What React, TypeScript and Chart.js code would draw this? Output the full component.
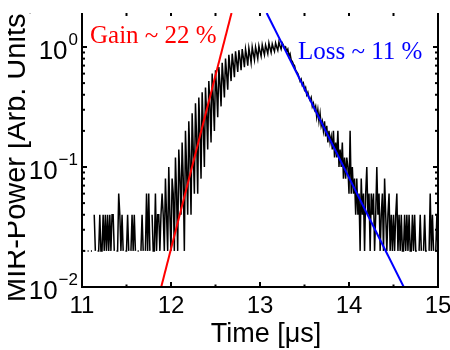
import React, { useEffect, useRef } from 'react';
import { Chart, registerables } from 'chart.js';

Chart.register(...registerables);

// ---- data ----
const T_START = 11.0; // μs, first sample time
const T_STEP = 0.0125; // μs between samples

// MIR power trace (arb. units); null = zero reading (not drawable on log axis)
const TRACE_VALUES: (number | null)[] = [
  // 11.0 – 11.74 : noise floor
  0.02, null, 0.02, 0.02, null, 0.02, 0.02, null, 0.02, 0.02,
  null, 0.04, 0.02, null, 0.02, 0.02, 0.04, 0.02, 0.02, 0.04,
  0.02, 0.04, 0.02, 0.04, 0.02, 0.04, 0.02, 0.04, 0.04, 0.02,
  null, 0.02, 0.02, 0.06, 0.04, 0.02, 0.04, 0.02, null, 0.02,
  0.02, 0.04, 0.02, null, 0.02, 0.04, 0.02, 0.04, 0.02, null,
  0.02, 0.02, null, 0.02, 0.04, 0.02, null, 0.02, 0.06, 0.02,
  // 11.75 – 13.27 : rising edge
  0.06, 0.02, null, 0.04, 0.02, 0.02, 0.06, 0.02, 0.04, 0.04,
  0.02, 0.04, 0.06, 0.04, 0.02, 0.08, 0.04, 0.02, 0.1, 0.04,
  0.02, 0.08, 0.06, 0.02, 0.12, 0.06, 0.02, 0.14, 0.08, 0.04,
  0.16, 0.08, 0.02, 0.2, 0.1, 0.04, 0.24, 0.12, 0.04, 0.28,
  0.14, 0.06, 0.34, 0.18, 0.06, 0.38, 0.2, 0.08, 0.42, 0.22,
  0.1, 0.46, 0.28, 0.14, 0.52, 0.32, 0.16, 0.6, 0.36, 0.2,
  0.64, 0.44, 0.26, 0.68, 0.5, 0.32, 0.74, 0.54, 0.38, 0.8,
  0.6, 0.44, 0.86, 0.68, 0.52, 0.88, 0.72, 0.56, 0.92, 0.76,
  0.62, 0.94, 0.8, 0.64, 0.96, 0.82, 0.68, 0.96, 0.84, 0.7,
  0.98, 0.86, 0.74, 1.0, 0.88, 0.78, 1.0, 0.9, 0.8, 1.02,
  0.92, 0.84, 1.04, 0.94, 0.86, 1.04, 0.96, 0.88, 1.08, 0.98,
  0.9, 1.06, 0.98, 0.92, 1.08, 1.0, 0.94, 1.1, 1.02, 0.96,
  1.08, 1.04, 0.98,
  // 13.29 – 14.35 : decay
  1.0, 0.92, 0.96, 0.84, 0.88, 0.78, 0.76, 0.72, 0.7, 0.64,
  0.62, 0.6, 0.56, 0.52, 0.54, 0.48, 0.5, 0.44, 0.46, 0.4,
  0.42, 0.38, 0.36, 0.38, 0.32, 0.34, 0.3, 0.32, 0.26, 0.3,
  0.24, 0.28, 0.22, 0.24, 0.2, 0.24, 0.18, 0.22, 0.16, 0.2,
  0.16, 0.18, 0.14, 0.2, 0.12, 0.16, 0.12, 0.2, 0.1, 0.14,
  0.1, 0.16, 0.08, 0.12, 0.08, 0.12, 0.1, 0.06, 0.2, 0.06,
  0.1, 0.06, 0.08, 0.04, 0.08, 0.04, 0.06, 0.02, 0.08, 0.04,
  0.06, 0.02, 0.06, 0.1, 0.04, 0.06, 0.02, 0.06, 0.04, 0.06,
  0.02, 0.04, 0.1, 0.04, 0.06, 0.02, 0.04, 0.06, 0.02, 0.08,
  // 14.41 – 15.0 : noise floor
  0.04, 0.02, 0.04, 0.06, 0.02, 0.04, 0.02, 0.04, 0.02, 0.04,
  0.06, 0.02, 0.04, 0.02, 0.04, 0.02, 0.02, 0.04, 0.02, 0.04,
  0.02, 0.04, 0.02, 0.02, 0.04, 0.02, 0.04, 0.02, 0.02, null,
  0.02, 0.04, 0.02, null, 0.02, 0.04, 0.02, 0.02, null, 0.02,
  0.06, 0.02, 0.04, 0.02, null, 0.02, 0.04, 0.02,
];

// Exponential fits (end points of the straight lines on the log axis)
const GAIN_T = [11.89, 12.68];
const GAIN_V = [0.01, 1.92];
const LOSS_T = [13.075, 14.615];
const LOSS_V = [1.92, 0.01];

const X_MIN = 11;
const X_MAX = 15;
const Y_MIN = 0.01;
const Y_MAX = 1.92;
const X_MINOR = [11.5, 12.5, 13.5, 14.5];
const Y_DECADES = [0.01, 0.1, 1];
const Y_EXPONENTS = ['\u22122', '\u22121', '0'];
const Y_MINOR_MULT = [2, 3, 4, 5, 6, 7, 8, 9];

const GAIN_LABEL = 'Gain ~ 22 %';
const LOSS_LABEL = 'Loss ~ 11 %';
const X_TITLE = 'Time [\u03bcs]';
const Y_TITLE = 'MIR-Power [Arb. Units]';

const SANS = '"Liberation Sans", Arial, Helvetica, sans-serif';
const SERIF = '"Liberation Serif", "Times New Roman", serif';

const matlabAxes = {
  id: 'matlabAxes',
  afterDraw(chart: any) {
    const ctx: CanvasRenderingContext2D = chart.ctx;
    const { left, right, top, bottom } = chart.chartArea;
    const xs = chart.scales.x;
    const ys = chart.scales.y;
    ctx.save();
    ctx.strokeStyle = '#000';
    ctx.lineCap = 'butt';

    // box (top edge not visible in reference)
    ctx.lineWidth = 2;
    ctx.beginPath();
    ctx.moveTo(left, top);
    ctx.lineTo(left, bottom);
    ctx.lineTo(right, bottom);
    ctx.lineTo(right, top);
    ctx.stroke();

    const seg = (x1: number, y1: number, x2: number, y2: number) => {
      ctx.beginPath();
      ctx.moveTo(x1, y1);
      ctx.lineTo(x2, y2);
      ctx.stroke();
    };

    // x ticks (inward)
    ctx.lineWidth = 2;
    xs.ticks.forEach((t: any) => {
      if (t.value <= X_MIN || t.value >= X_MAX) return;
      const px = xs.getPixelForValue(t.value);
      seg(px, bottom, px, bottom - 5);
      seg(px, top, px, top + 3);
    });
    X_MINOR.forEach((v) => {
      const px = xs.getPixelForValue(v);
      seg(px, bottom, px, bottom - 2.5);
      seg(px, top, px, top + 3);
    });

    // y ticks (inward, both sides)
    Y_DECADES.forEach((d) => {
      const py = ys.getPixelForValue(d);
      seg(left, py, left + 5, py);
      seg(right, py, right - 5, py);
      Y_MINOR_MULT.forEach((m) => {
        const v = d * m;
        if (v > Y_MAX) return;
        const p = ys.getPixelForValue(v);
        seg(left, p, left + 3, p);
        seg(right, p, right - 3, p);
      });
    });

    // y tick labels 10^n
    ctx.fillStyle = '#000';
    ctx.textBaseline = 'alphabetic';
    ctx.textAlign = 'right';
    Y_DECADES.forEach((d, i) => {
      const py = ys.getPixelForValue(d);
      ctx.font = `17px ${SANS}`;
      const ew = ctx.measureText(Y_EXPONENTS[i]).width;
      ctx.fillText(Y_EXPONENTS[i], left - 4, py - 2);
      ctx.font = `26px ${SANS}`;
      ctx.fillText('10', left - 5 - ew, py + 12);
    });

    // x title
    ctx.textAlign = 'center';
    ctx.font = `27px ${SANS}`;
    ctx.fillText(X_TITLE, (left + right) / 2 + 6, bottom + 55);

    // y title (clipped like the reference)
    ctx.save();
    ctx.beginPath();
    ctx.rect(8, top, 40, 350 - top);
    ctx.clip();
    ctx.translate(25, bottom + 15);
    ctx.rotate(-Math.PI / 2);
    ctx.textAlign = 'left';
    ctx.font = `29px ${SANS}`;
    ctx.fillText(Y_TITLE, 0, 0);
    ctx.restore();

    // fit annotations
    ctx.textAlign = 'left';
    ctx.font = `25px ${SERIF}`;
    ctx.fillStyle = '#ff0000';
    ctx.fillText(GAIN_LABEL, left + 8, top + 30);
    ctx.fillStyle = '#0000ff';
    ctx.fillText(LOSS_LABEL, right - 140, top + 46);
    ctx.restore();
  },
};

export default function App() {
  const canvasRef = useRef<HTMLCanvasElement | null>(null);

  useEffect(() => {
    if (!canvasRef.current) return;
    const trace = TRACE_VALUES.map((v, i) => ({ x: T_START + i * T_STEP, y: v }));
    const gain = GAIN_T.map((t, i) => ({ x: t, y: GAIN_V[i] }));
    const loss = LOSS_T.map((t, i) => ({ x: t, y: LOSS_V[i] }));

    const chart = new Chart(canvasRef.current, {
      type: 'line',
      data: {
        datasets: [
          { label: 'Gain', data: gain as any, borderColor: '#ff0000', borderWidth: 2, pointRadius: 0, order: 0 },
          { label: 'Loss', data: loss as any, borderColor: '#0000ff', borderWidth: 2, pointRadius: 0, order: 1 },
          {
            label: 'MIR power',
            data: trace as any,
            borderColor: '#000000',
            borderWidth: 1.5,
            pointRadius: 0,
            spanGaps: false,
            tension: 0,
            order: 2,
          },
        ],
      },
      options: {
        responsive: false,
        animation: false,
        events: [],
        layout: { padding: { left: 0, right: 12, top: 13, bottom: 0 } },
        plugins: { legend: { display: false }, tooltip: { enabled: false } },
        scales: {
          x: {
            type: 'linear',
            min: X_MIN,
            max: X_MAX,
            grid: { display: false, drawTicks: false },
            border: { display: false },
            ticks: {
              stepSize: 1,
              padding: 5,
              color: '#000',
              maxRotation: 0,
              autoSkip: false,
              font: { family: SANS, size: 24 },
            },
            afterFit: (s: any) => {
              s.height = 63;
              s.paddingLeft = 0;
              s.paddingRight = 0;
            },
          },
          y: {
            type: 'logarithmic',
            min: Y_MIN,
            max: Y_MAX,
            grid: { display: false, drawTicks: false },
            border: { display: false },
            ticks: { display: false },
            afterFit: (s: any) => {
              s.width = 82;
              s.paddingTop = 0;
              s.paddingBottom = 0;
            },
          },
        },
      },
      plugins: [matlabAxes],
    });
    return () => chart.destroy();
  }, []);

  return (
    <div style={{ position: 'fixed', left: 0, top: 0, width: 450, height: 350, background: '#fff' }}>
      <canvas ref={canvasRef} width={450} height={350} style={{ width: 450, height: 350, display: 'block' }} />
    </div>
  );
}
